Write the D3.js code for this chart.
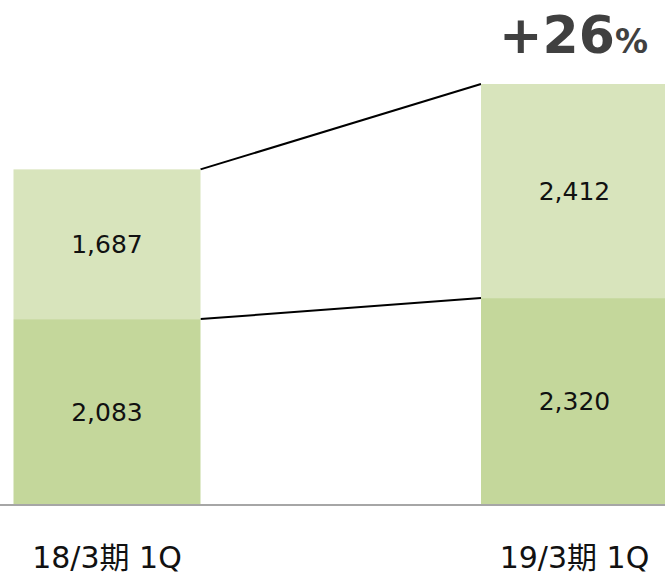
<!DOCTYPE html>
<html>
<head>
<meta charset="utf-8">
<script src="https://cdn.jsdelivr.net/npm/d3@7"></script>
<style>
  body { margin: 0; background: #fff; }
  svg { display: block; }
</style>
</head>
<body>
<script>
var w = 665;
var h = 575;

// data
var categories = ["18/3期 1Q", "19/3期 1Q"];
var lowerValues = [2083, 2320];
var upperValues = [1687, 2412];
var growthLabel = "+26";

var colors = { lower: "#C4D79B", upper: "#D8E4BC" };

var svg = d3.select("body").append("svg").attr("width", w).attr("height", h);

var totals = categories.map(function (c, i) { return lowerValues[i] + upperValues[i]; });

var x = d3.scaleBand()
    .domain(categories)
    .range([13.5, 668])
    .paddingInner(0.6)
    .paddingOuter(0);

var y = d3.scaleLinear()
    .domain([0, d3.max(totals)])
    .range([504, 84]);

var fmt = d3.format(",");

var rows = categories.map(function (c, i) {
    return { cat: c, lower: lowerValues[i], upper: upperValues[i], total: totals[i] };
});

// connector lines
[["lower", function (d) { return d.lower; }], ["upper", function (d) { return d.total; }]].forEach(function (p) {
    svg.append("line")
        .attr("x1", x(categories[0]) + x.bandwidth())
        .attr("y1", y(p[1](rows[0])))
        .attr("x2", x(categories[1]))
        .attr("y2", y(p[1](rows[1])))
        .attr("stroke", "#000")
        .attr("stroke-width", 2);
});

var g = svg.selectAll("g.bar")
    .data(rows)
    .enter()
    .append("g")
    .attr("class", "bar");

g.append("rect")
    .attr("x", function (d) { return x(d.cat); })
    .attr("width", x.bandwidth())
    .attr("y", function (d) { return y(d.lower); })
    .attr("height", function (d) { return y(0) - y(d.lower); })
    .attr("fill", colors.lower);

g.append("rect")
    .attr("x", function (d) { return x(d.cat); })
    .attr("width", x.bandwidth())
    .attr("y", function (d) { return y(d.total); })
    .attr("height", function (d) { return y(d.lower) - y(d.total); })
    .attr("fill", colors.upper);

g.append("text")
    .attr("x", function (d) { return x(d.cat) + x.bandwidth() / 2; })
    .attr("y", function (d) { return (y(0) + y(d.lower)) / 2; })
    .attr("dy", "0.36em")
    .attr("text-anchor", "middle")
    .style("font", "25px 'DejaVu Sans', 'Noto Sans CJK JP'")
    .attr("fill", "#111")
    .text(function (d) { return fmt(d.lower); });

g.append("text")
    .attr("x", function (d) { return x(d.cat) + x.bandwidth() / 2; })
    .attr("y", function (d) { return (y(d.lower) + y(d.total)) / 2; })
    .attr("dy", "0.36em")
    .attr("text-anchor", "middle")
    .style("font", "25px 'DejaVu Sans', 'Noto Sans CJK JP'")
    .attr("fill", "#111")
    .text(function (d) { return fmt(d.upper); });

// base axis line
svg.append("line")
    .attr("x1", 0).attr("x2", w)
    .attr("y1", y(0) + 1).attr("y2", y(0) + 1)
    .attr("stroke", "#A6A6A6")
    .attr("stroke-width", 2);

// category labels
svg.selectAll("text.cat")
    .data(categories)
    .enter()
    .append("text")
    .attr("class", "cat")
    .attr("x", function (d) { return x(d) + x.bandwidth() / 2; })
    .attr("y", 568)
    .attr("text-anchor", "middle")
    .style("font", "30px 'DejaVu Sans', 'Noto Sans CJK JP'")
    .attr("fill", "#111")
    .text(function (d) { return d; });

// growth label
var gl = svg.append("text")
    .attr("x", x(categories[1]) + x.bandwidth() / 2 - 1)
    .attr("y", 53)
    .attr("text-anchor", "middle")
    .attr("fill", "#404040")
    .style("font-family", "'DejaVu Sans', sans-serif")
    .style("font-weight", "bold");
gl.append("tspan").style("font-size", "52px").text(growthLabel);
gl.append("tspan").style("font-size", "33px").text("%");
</script>
</body>
</html>
